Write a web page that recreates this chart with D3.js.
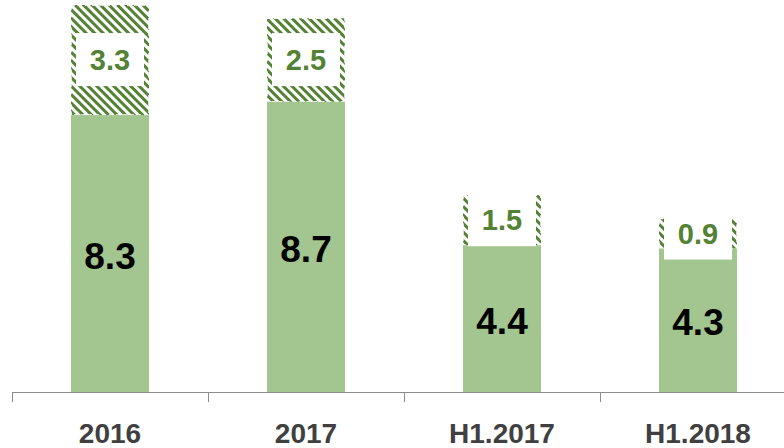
<html>
<script src="https://d3js.org/d3.v7.min.js"></script>
<style>
    body { margin: 0; background: #fff; }
    text { font-family: "Liberation Sans Narrow", "Liberation Sans", "Open Sans", sans-serif; font-weight: bold; }
</style>
<body>
<svg width="784" height="448"></svg>
<script>
    var categories = ["2016", "2017", "H1.2017", "H1.2018"];
    var baseValues = [8.3, 8.7, 4.4, 4.3];
    var extraValues = [3.3, 2.5, 1.5, 0.9];

    var svg = d3.select("svg");
    var y0 = 392;

    // hatch pattern for the top segment
    var defs = svg.append("defs");
    var pat = defs.append("pattern")
        .attr("id", "hatch")
        .attr("patternUnits", "userSpaceOnUse")
        .attr("width", 6).attr("height", 6)
        .attr("patternTransform", "rotate(-45)");
    pat.append("rect").attr("width", 6).attr("height", 6).attr("fill", "#ffffff");
    pat.append("rect").attr("width", 3).attr("height", 6).attr("fill", "#548235");

    var xs = d3.scaleBand().domain(categories).range([12, 796]).paddingInner(0).paddingOuter(0);
    var ys = d3.scaleLinear().domain([0, 11.75]).range([y0, 0]);
    var barW = 78;

    var g = svg.append("g");

    var bars = g.selectAll("g.bar").data(categories).enter().append("g").attr("class", "bar");

    // hatched top part
    bars.append("rect")
        .attr("x", d => xs(d) + xs.bandwidth() / 2 - barW / 2)
        .attr("y", (d, i) => ys(baseValues[i] + extraValues[i]))
        .attr("width", barW)
        .attr("height", (d, i) => ys(baseValues[i]) - ys(baseValues[i] + extraValues[i]))
        .attr("fill", "url(#hatch)")
        .attr("stroke", "#ffffff")
        .attr("stroke-width", 1.5)
        .attr("stroke-dasharray", "4,3");

    // solid bottom part
    bars.append("rect")
        .attr("x", d => xs(d) + xs.bandwidth() / 2 - barW / 2)
        .attr("y", (d, i) => ys(baseValues[i]))
        .attr("width", barW)
        .attr("height", (d, i) => y0 - ys(baseValues[i]))
        .attr("fill", "#a3c58f");

    // label boxes on hatched part
    bars.append("rect")
        .attr("x", d => xs(d) + xs.bandwidth() / 2 - barW / 2 + 5)
        .attr("y", (d, i) => (ys(baseValues[i]) + ys(baseValues[i] + extraValues[i])) / 2 - 27)
        .attr("width", barW - 10)
        .attr("height", 53)
        .attr("fill", "#ffffff");

    bars.append("text")
        .attr("x", d => xs(d) + xs.bandwidth() / 2)
        .attr("y", (d, i) => (ys(baseValues[i]) + ys(baseValues[i] + extraValues[i])) / 2 + 10)
        .attr("text-anchor", "middle")
        .attr("font-size", 29)
        .attr("fill", "#548235")
        .text((d, i) => extraValues[i].toFixed(1));

    bars.append("text")
        .attr("x", d => xs(d) + xs.bandwidth() / 2)
        .attr("y", (d, i) => (ys(baseValues[i]) + y0) / 2 + 15)
        .attr("text-anchor", "middle")
        .attr("font-size", 37)
        .attr("fill", "#000000")
        .text((d, i) => baseValues[i].toFixed(1));

    // x axis
    var ax = svg.append("g").attr("transform", "translate(0," + y0 + ")");
    ax.append("line").attr("x1", 12).attr("x2", 784).attr("y1", 0.5).attr("y2", 0.5)
        .attr("stroke", "#8c8c8c").attr("stroke-width", 1);
    ax.selectAll("line.tick").data(categories).enter().append("line")
        .attr("class", "tick")
        .attr("x1", d => Math.round(xs(d)) + 0.5).attr("x2", d => Math.round(xs(d)) + 0.5)
        .attr("y1", 0).attr("y2", 10)
        .attr("stroke", "#8c8c8c");
    ax.selectAll("text").data(categories).enter().append("text")
        .attr("x", d => xs(d) + xs.bandwidth() / 2)
        .attr("y", 51)
        .attr("text-anchor", "middle")
        .attr("font-size", 28)
        .attr("fill", "#404040")
        .text(d => d);
</script>
</body>
</html>
